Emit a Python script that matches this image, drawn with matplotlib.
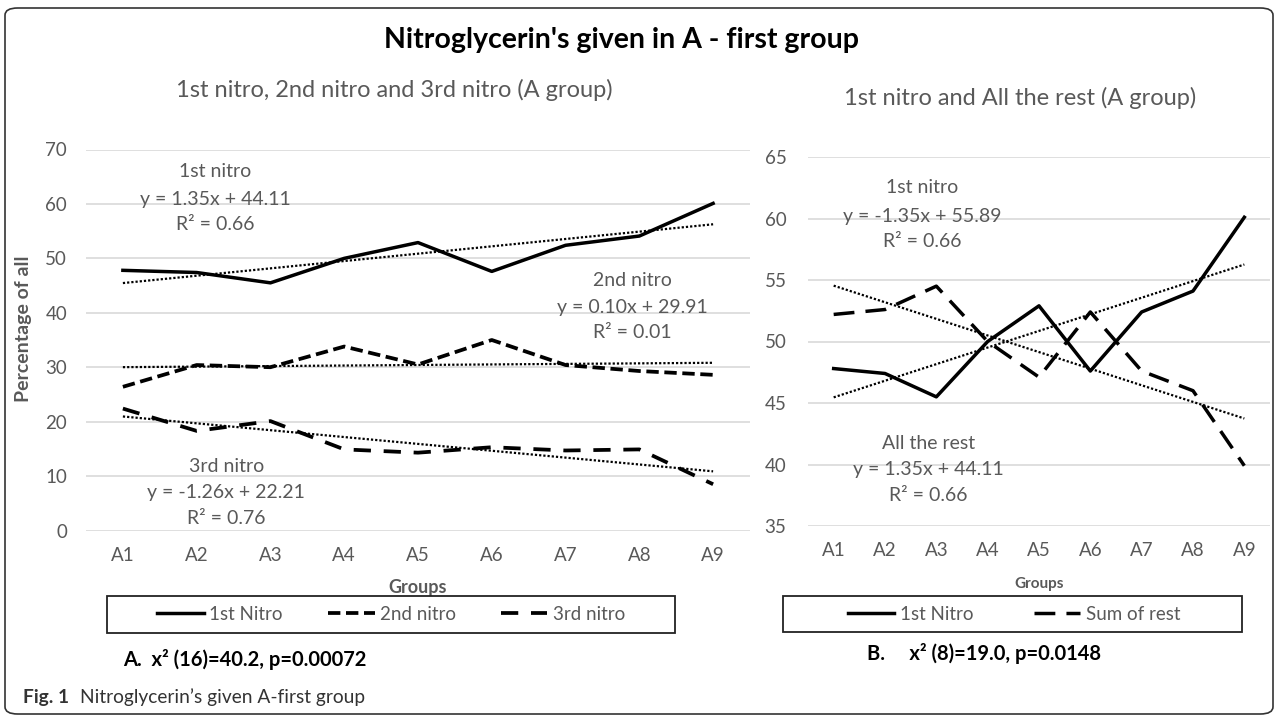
import matplotlib
matplotlib.use("Agg")
import matplotlib.pyplot as plt
from matplotlib.patches import FancyBboxPatch, Rectangle
import numpy as np

# donnees
groups = ["A1", "A2", "A3", "A4", "A5", "A6", "A7", "A8", "A9"]
first_nitro = [47.8, 47.4, 45.5, 50.0, 52.9, 47.6, 52.4, 54.1, 60.1]
second_nitro = [26.4, 30.4, 30.0, 33.8, 30.5, 35.0, 30.4, 29.3, 28.6]
third_nitro = [22.4, 18.3, 20.1, 14.9, 14.3, 15.3, 14.7, 14.9, 8.5]
sum_of_rest = [52.2, 52.6, 54.5, 50.0, 47.1, 52.4, 47.6, 46.0, 39.9]

# droites de tendance (pente, ordonnee) telles qu'affichees
trend_first = (1.35, 44.11)
trend_second = (0.10, 29.91)
trend_third = (-1.26, 22.21)
trend_rest = (-1.35, 55.89)

GRAY = "#595959"
W, H = 1278, 717
plt.rcParams["font.family"] = ["Lato", "DejaVu Sans"]

fig = plt.figure(figsize=(W / 100, H / 100), dpi=100)

# cadre arrondi autour de la figure
fig.patches.append(FancyBboxPatch((5 / W, 3 / H), 1268 / W, 706 / H,
                                  boxstyle="round,pad=0,rounding_size=0.01",
                                  transform=fig.transFigure, fill=False,
                                  edgecolor="#333333", linewidth=1.2))

x = np.arange(1, len(groups) + 1)


def trend(ax, coef):
    ax.plot(x, coef[0] * x + coef[1], color="black", linestyle=(0, (1, 0.9)), linewidth=1.6)


def style(ax, ylim, yticks, xpad, ypad):
    ax.set_xlim(0.5, len(groups) + 0.5)
    ax.set_ylim(*ylim)
    ax.set_yticks(yticks)
    ax.set_xticks(x)
    ax.set_xticklabels(groups)
    ax.grid(axis="y", color="#d9d9d9", linewidth=1.2)
    ax.set_axisbelow(True)
    for s in ax.spines.values():
        s.set_visible(False)
    ax.tick_params(length=0, colors=GRAY, labelsize=13.5)
    ax.tick_params(axis="x", pad=xpad)
    ax.tick_params(axis="y", pad=ypad)


def legend_box(x0, y0, x1, y1):
    # cadre de legende en pixels (origine en haut a gauche)
    fig.patches.append(Rectangle((x0 / W, 1 - y1 / H), (x1 - x0) / W, (y1 - y0) / H,
                                 transform=fig.transFigure, fill=False,
                                 edgecolor="#222222", linewidth=1.3))


kw = dict(color=GRAY, fontsize=14, ha="center", va="center")

# graphique A
axA = fig.add_axes([86 / W, 1 - 530.5 / H, 664 / W, 381 / H])
style(axA, (0, 70), np.arange(0, 71, 10), 12, 13.5)
axA.plot(x, first_nitro, color="black", linewidth=2.5, label="1st Nitro")
axA.plot(x, second_nitro, color="black", linewidth=2.7, linestyle=(0, (3.3, 1.5)), label="2nd nitro")
axA.plot(x, third_nitro, color="black", linewidth=2.7, linestyle=(0, (4.6, 3.4)), label="3rd nitro")
trend(axA, trend_first)
trend(axA, trend_second)
trend(axA, trend_third)

axA.text(2.25, 65.9, "1st nitro", **kw)
axA.text(2.25, 60.8, "y = 1.35x + 44.11", **kw)
axA.text(2.25, 56.2, "R² = 0.66", **kw)
axA.text(7.9, 46.0, "2nd nitro", **kw)
axA.text(7.9, 40.9, "y = 0.10x + 29.91", **kw)
axA.text(7.9, 36.3, "R² = 0.01", **kw)
axA.text(2.4, 11.8, "3rd nitro", **kw)
axA.text(2.4, 7.0, "y = -1.26x + 22.21", **kw)
axA.text(2.4, 2.2, "R² = 0.76", **kw)

axA.set_ylabel("Percentage of all", fontsize=14, fontweight="bold", color=GRAY)
axA.yaxis.set_label_coords(-0.081, 0.53)
axA.set_xlabel("Groups", fontsize=13, fontweight="bold", color=GRAY)
axA.xaxis.set_label_coords(0.5, -0.128)

legend_box(107, 596, 675, 633)
legA = axA.legend(loc="center", bbox_to_anchor=(391 / W, 1 - 614.5 / H),
                  bbox_transform=fig.transFigure, ncol=3, frameon=False,
                  fontsize=13.5, handlelength=2.5, handletextpad=0.27, columnspacing=2.4)
for t in legA.get_texts():
    t.set_color(GRAY)

# graphique B
axB = fig.add_axes([808 / W, 1 - 526 / H, 462 / W, 369 / H])
style(axB, (35, 65), np.arange(35, 66, 5), 11.5, 15.5)
axB.plot(x, first_nitro, color="black", linewidth=2.5, label="1st Nitro")
axB.plot(x, sum_of_rest, color="black", linewidth=2.5, linestyle=(0, (6, 3.2)), label="Sum of rest")
trend(axB, trend_first)
trend(axB, trend_rest)

axB.text(2.73, 62.5, "1st nitro", **kw)
axB.text(2.73, 60.2, "y = -1.35x + 55.89", **kw)
axB.text(2.73, 58.1, "R² = 0.66", **kw)
axB.text(2.85, 41.7, "All the rest", **kw)
axB.text(2.85, 39.6, "y = 1.35x + 44.11", **kw)
axB.text(2.85, 37.5, "R² = 0.66", **kw)

axB.set_xlabel("Groups", fontsize=11, fontweight="bold", color=GRAY)
axB.xaxis.set_label_coords(0.5, -0.138)

legend_box(783, 596, 1242, 632)
legB = axB.legend(loc="center", bbox_to_anchor=(1014 / W, 1 - 614 / H),
                  bbox_transform=fig.transFigure, ncol=2, frameon=False,
                  fontsize=13.5, handlelength=2.5, handletextpad=0.3, columnspacing=3.2)
for t in legB.get_texts():
    t.set_color(GRAY)

# titres et textes
fig.text(621 / W, 1 - 48 / H, "Nitroglycerin's given in A - first group", ha="center",
         va="baseline", fontsize=20.5, fontweight="bold", color="black")
fig.text(394 / W, 1 - 97 / H, "1st nitro, 2nd nitro and 3rd nitro (A group)", ha="center",
         va="baseline", fontsize=17, color=GRAY)
fig.text(1020 / W, 1 - 105 / H, "1st nitro and All the rest (A group)", ha="center",
         va="baseline", fontsize=17, color=GRAY)
fig.text(123 / W, 1 - 666 / H, "A.  x² (16)=40.2, p=0.00072", ha="left", va="baseline",
         fontsize=14.5, fontweight="bold", color="black")
fig.text(867 / W, 1 - 660 / H, "B.     x² (8)=19.0, p=0.0148", ha="left", va="baseline",
         fontsize=14.5, fontweight="bold", color="black")
fig.text(23 / W, 1 - 703 / H, "Fig. 1", ha="left", va="baseline", fontsize=13.8,
         fontweight="bold", color="#333333")
fig.text(80 / W, 1 - 703 / H, "Nitroglycerin’s given A-first group", ha="left", va="baseline",
         fontsize=13.8, color="#333333")

fig.savefig("out.png", dpi=100)
